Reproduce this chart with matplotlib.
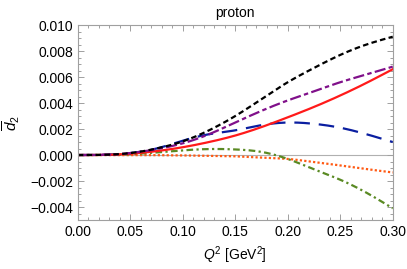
import numpy as np
import matplotlib
matplotlib.use("Agg")
import matplotlib.pyplot as plt
from matplotlib.ticker import MultipleLocator, FuncFormatter

plt.rcParams['font.family'] = ['Liberation Sans', 'DejaVu Sans']
plt.rcParams['mathtext.fontset'] = 'custom'
plt.rcParams['mathtext.it'] = 'Liberation Sans:italic'
plt.rcParams['mathtext.rm'] = 'Liberation Sans'

q2 = [0.0, 0.025, 0.05, 0.075, 0.10, 0.125, 0.15, 0.175, 0.20, 0.225, 0.25, 0.275, 0.30]

black = [0.0, 0.00002, 0.00015, 0.0005, 0.00105, 0.0019, 0.0030, 0.0043, 0.0056, 0.0067, 0.0077, 0.0085, 0.0091]
purple = [0.0, 0.00002, 0.00015, 0.00045, 0.0009, 0.0016, 0.0025, 0.0034, 0.0042, 0.0049, 0.0056, 0.0062, 0.0068]
red = [0.0, 0.00001, 0.0001, 0.0003, 0.0006, 0.001, 0.0015, 0.00215, 0.0029, 0.0037, 0.00458, 0.00555, 0.0066]
blue = [0.0, 0.00002, 0.00015, 0.0005, 0.0011, 0.0016, 0.0019, 0.0023, 0.0025, 0.0024, 0.0021, 0.0016, 0.0010]
green = [0.0, 0.00001, 0.00007, 0.0002, 0.00036, 0.00046, 0.00043, 0.00024, -0.0003, -0.0011, -0.0019, -0.0029, -0.0041]
orange = [0.0, 0.0, 0.0, -0.00001, -0.00003, -0.00006, -0.0001, -0.0002, -0.0003, -0.00054, -0.0008, -0.00108, -0.00134]


def smooth(x, y, n=200):
    # natural cubic spline through the read points
    x = np.asarray(x)
    y = np.asarray(y)
    xs = np.linspace(x[0], x[-1], n)
    h = np.diff(x)
    m = len(x)
    A = np.zeros((m, m))
    b = np.zeros(m)
    A[0, 0] = A[-1, -1] = 1
    for i in range(1, m - 1):
        A[i, i - 1] = h[i - 1]
        A[i, i] = 2 * (h[i - 1] + h[i])
        A[i, i + 1] = h[i]
        b[i] = 3 * ((y[i + 1] - y[i]) / h[i] - (y[i] - y[i - 1]) / h[i - 1])
    c = np.linalg.solve(A, b)
    ys = np.zeros(n)
    for k, xv in enumerate(xs):
        i = min(np.searchsorted(x, xv, side='right') - 1, m - 2)
        dx = xv - x[i]
        bb = (y[i + 1] - y[i]) / h[i] - h[i] * (2 * c[i] + c[i + 1]) / 3
        dd = (c[i + 1] - c[i]) / (3 * h[i])
        ys[k] = y[i] + bb * dx + c[i] * dx ** 2 + dd * dx ** 3
    return xs, ys


fig = plt.figure(figsize=(4.07, 2.69), dpi=100)
ax = fig.add_axes([0.191, 0.182, 0.774, 0.725])

ax.axhline(0, color='#b0b0b0', linewidth=0.8, zorder=1)

ax.plot(*smooth(q2, orange), color='#ff5a14', linewidth=1.6, linestyle=(0, (1, 1)))
ax.plot(*smooth(q2, green), color='#5a8a23', linewidth=1.6, linestyle=(0, (3, 1.5, 1, 1.5)))
ax.plot(*smooth(q2, blue), color='#0a1ea0', linewidth=1.6, linestyle=(0, (7, 4)))
ax.plot(*smooth(q2, red), color='#ff1a1a', linewidth=1.6)
ax.plot(*smooth(q2, purple), color='#80108a', linewidth=1.6, linestyle=(0, (5, 1.5, 2, 1.5)))
ax.plot(*smooth(q2, black), color='black', linewidth=1.6, linestyle=(0, (2.5, 1.5)))

ax.set_xlim(0, 0.30)
ax.set_ylim(-0.005, 0.010)
ax.xaxis.set_major_locator(MultipleLocator(0.05))
ax.xaxis.set_minor_locator(MultipleLocator(0.01))
ax.yaxis.set_major_locator(MultipleLocator(0.002))
ax.yaxis.set_minor_locator(MultipleLocator(0.0005))
ax.xaxis.set_major_formatter(FuncFormatter(lambda v, p: f'{v:.2f}'))
ax.yaxis.set_major_formatter(FuncFormatter(lambda v, p: f'{v:.3f}'.replace('-', '\u2212') if abs(v) > 1e-9 else '0.000'))

for s in ax.spines.values():
    s.set_color('#a0a0a0')
    s.set_linewidth(0.8)
ax.tick_params(which='both', direction='in', top=True, right=True, color='#a0a0a0',
               labelsize=10, labelcolor='black', width=0.7)
ax.tick_params(which='major', length=4)
ax.tick_params(which='minor', length=2)

ax.set_title('proton', fontsize=10, pad=6)
ax.set_xlabel(r'$Q^2$ [GeV$^2$]', fontsize=10, labelpad=4)
ax.set_ylabel(r'$\overline{d}_2$', fontsize=11, labelpad=6)

fig.savefig('out.png', dpi=100)
